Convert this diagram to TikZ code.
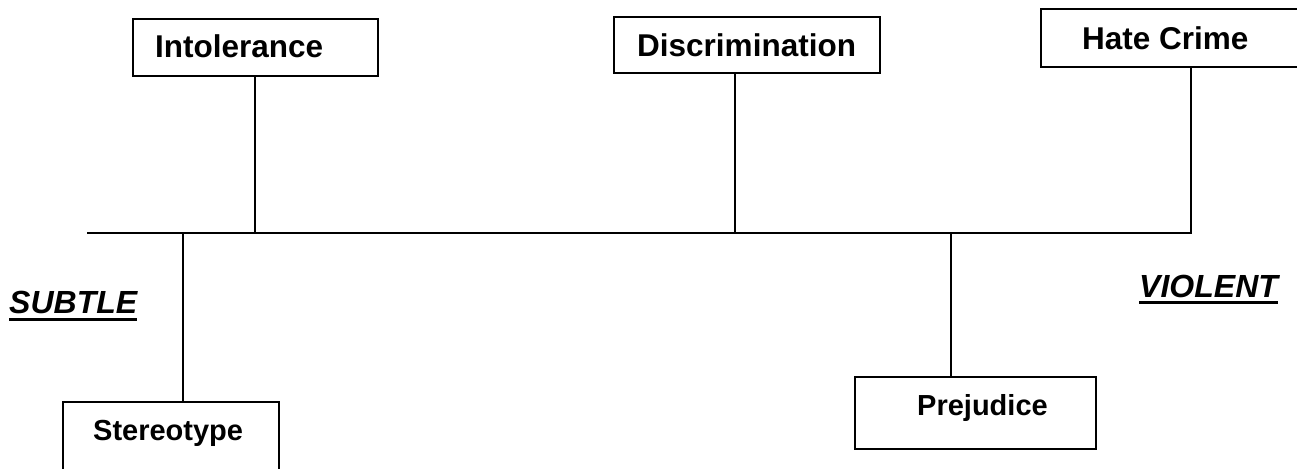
\documentclass[tikz,border=0pt]{standalone}
\usepackage{fontspec}
\setmainfont{Liberation Sans}
\tikzset{
  box/.style={draw, line width=2pt, fill=white, inner sep=0pt},
  word/.style={inner sep=0pt, anchor=base west, font=\bfseries\fontsize{31.5}{36}\selectfont},
  smallword/.style={word, font=\bfseries\fontsize{29}{34}\selectfont},
  pole/.style={inner sep=0pt, anchor=base west, font=\bfseries\itshape\fontsize{32}{38}\selectfont},
  stem/.style={line width=1.6pt},
  axisline/.style={line width=2.2pt},
  uline/.style={line width=3pt}
}
\begin{document}
\begin{tikzpicture}[x=1pt, y=-1pt]
    % page frame
    \useasboundingbox (0,0) rectangle (1297,468);
    \clip (0,0) rectangle (1297,468);

    % axis points
    \coordinate (axL) at (87, 233);
    \coordinate (axR) at (1191, 233);
    \coordinate (sS) at (183, 233);
    \coordinate (sI) at (255, 233);
    \coordinate (sD) at (735, 233);
    \coordinate (sP) at (951, 233);

    % boxes above the line
    \node[box, minimum width=245pt, minimum height=57pt] (intol) at (255.5, 47.5) {};
    \node[box, minimum width=266pt, minimum height=56pt] (discr) at (747, 45) {};
    \node[box, minimum width=272pt, minimum height=58pt] (hate) at (1177, 38) {};

    % boxes below the line
    \node[box, minimum width=216pt, minimum height=90pt] (stereo) at (171, 447) {};
    \node[box, minimum width=241pt, minimum height=72pt] (prej) at (975.5, 413) {};

    % box texts
    \node[word] (intolT) at (155, 58) {Intolerance};
    \node[word] (discrT) at (637, 57) {Discrimination};
    \node[word] (hateT) at (1082, 50) {Hate Crime};
    \node[smallword] (stereoT) at (93, 440) {Stereotype};
    \node[smallword] (prejT) at (917, 415) {Prejudice};

    % the two ends
    \node[pole] (subtle) at (9, 313) {SUBTLE};
    \node[pole] (violent) at (1139, 297) {VIOLENT};
    \draw[uline] ([yshift=-6pt]subtle.base west) -- ([yshift=-6pt]subtle.base east);
    \draw[uline] ([yshift=-5pt]violent.base west) -- ([yshift=-5pt]violent.base east);

    % line and stems
    \draw[axisline] (axL) -- (axR) -- (axR |- hate.south);
    \draw[stem] (sI |- intol.south) -- (sI);
    \draw[stem] (sD |- discr.south) -- (sD);
    \draw[stem] (sS) -- (sS |- stereo.north);
    \draw[stem] (sP) -- (sP |- prej.north);
\end{tikzpicture}
\end{document}
